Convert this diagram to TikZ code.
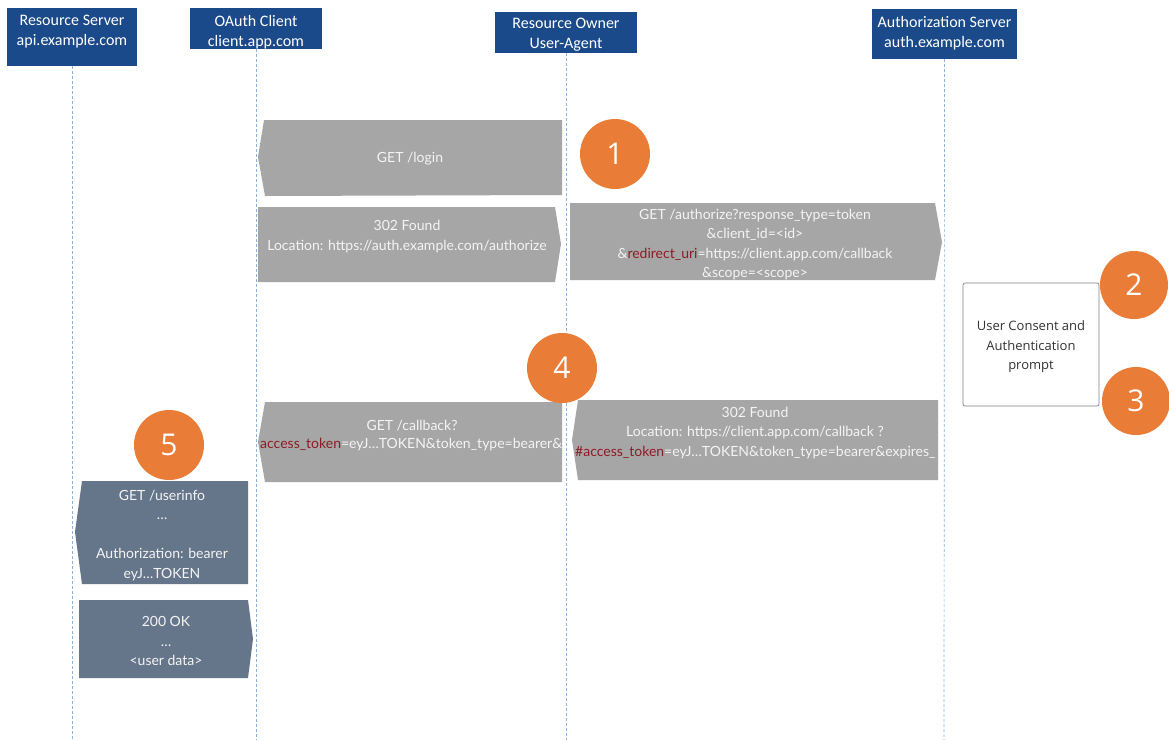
\documentclass[tikz,border=0pt]{standalone}
\usepackage{fontspec}
\setmainfont{Lato}
\newfontfamily\hdrfont{Carlito}
\newfontfamily\numfont{Open Sans}
\definecolor{hdrblue}{HTML}{1B4A8A}
\definecolor{msggray}{HTML}{A6A6A6}
\definecolor{msgslate}{HTML}{66768A}
\definecolor{steporange}{HTML}{E97C36}
\definecolor{tokred}{HTML}{8E1B25}
\definecolor{lifeblue}{HTML}{8FB4D9}
\definecolor{msgtext}{HTML}{F4F4F4}
\definecolor{boxline}{HTML}{808080}
\tikzset{
  hdrbox/.style={fill=hdrblue, inner sep=0pt},
  hdrtext/.style={text=white, font=\hdrfont\fontsize{16}{20}\selectfont, align=center, inner sep=0pt},
  lifeline/.style={draw=lifeblue, densely dashed, line width=0.7pt},
  msgtxt/.style={text=msgtext, font=\fontsize{14}{19.5}\selectfont, align=center, inner sep=0pt},
  stepnum/.style={circle, fill=steporange, text=white, minimum size=70pt, inner sep=0pt,
    font=\numfont\fontsize{30}{30}\selectfont},
  promptbox/.style={draw=boxline, line width=0.7pt, rounded corners=2pt, fill=white,
    minimum width=136pt, minimum height=123pt, inner sep=0pt, align=center,
    font=\numfont\fontsize{13}{19.5}\selectfont, text=black!80}
}
\begin{document}
\begin{tikzpicture}[x=1pt, y=-1pt]
  \useasboundingbox[fill=white] (0,0) rectangle (1169,740);

  % participants
  \node[hdrbox, minimum width=130pt, minimum height=58pt] (rs) at (72,37) {};
  \node[hdrtext] (rs-t) at (72,32) {Resource Server\\api.example.com};
  \node[hdrbox, minimum width=132pt, minimum height=41pt] (oc) at (256,28.5) {};
  \node[hdrtext] (oc-t) at (256,32) {OAuth Client\\client.app.com};
  \node[hdrbox, minimum width=142pt, minimum height=41pt] (ro) at (566,32.5) {};
  \node[hdrtext] (ro-t) at (566,35) {Resource Owner\\User-Agent};
  \node[hdrbox, minimum width=145pt, minimum height=50pt] (as) at (944.5,34) {};
  \node[hdrtext] (as-t) at (944.5,33.5) {Authorization Server\\auth.example.com};

  % lifelines
  \coordinate (rs-end) at (72,740);
  \coordinate (oc-end) at (256,740);
  \coordinate (ro-end) at (566,740);
  \coordinate (as-end) at (944,740);
  \draw[lifeline] (rs.south) -- (rs-end);
  \draw[lifeline] (oc.south) -- (oc-end);
  \draw[lifeline] (ro.south) -- (ro-end);
  \draw[lifeline] (as.south) -- (as-end);

  % step 1: login and redirect to the authorization endpoint
  \fill[msggray] (264,120) -- (562,120) -- (562,195) -- (265,196) -- (258,157) -- cycle;
  \node[msgtxt] (login) at (410,159) {GET /login};

  \fill[msggray] (258,207) -- (555,207) -- (561,244) -- (555,282) -- (258,282) -- cycle;
  \node[msgtxt] (found1) at (407,236.5) {302 Found\\Location: https://auth.example.com/authorize};

  \fill[msggray] (570,203) -- (935,203) -- (942,242) -- (935,280) -- (570,280) -- cycle;
  \node[msgtxt] (authz) at (755,244.5) {GET /authorize?response\_type=token\\
    \&client\_id=<id>\\
    \&\textcolor{tokred}{redirect\_uri}=https://client.app.com/callback\\
    \&scope=<scope>};

  % steps 2 and 3: consent on the authorization server
  \node[promptbox] (prompt) at (1031,344.5) {};
  \node[text=black!80, align=center, inner sep=0pt, font=\numfont\fontsize{13}{19.5}\selectfont]
    (prompt-t) at (1031,347) {User Consent and\\Authentication\\prompt};

  % step 4: redirect back with the token in the fragment
  \fill[msggray] (578,400) -- (938,400) -- (938,480) -- (578,480) -- (572,440) -- cycle;
  \begin{scope}
    \clip (578,400) -- (938,400) -- (938,480) -- (578,480) -- (572,440) -- cycle;
    \node[msgtxt] (found2) at (755,423) {302 Found\\Location: https://client.app.com/callback ?};
    \node[msgtxt, anchor=west] (frag) at (575,452.5) {\textcolor{tokred}{\#access\_token}=eyJ…TOKEN\&token\_type=bearer\&expires\_};
  \end{scope}

  \fill[msggray] (265,402) -- (562,402) -- (562,482) -- (265,482) -- (258,442) -- cycle;
  \begin{scope}
    \clip (265,402) -- (562,402) -- (562,482) -- (265,482) -- (257,442) -- cycle;
    \node[msgtxt] (cb) at (412,425.5) {GET /callback?};
    \node[msgtxt, anchor=west] (cbq) at (260,444.5) {\textcolor{tokred}{access\_token}=eyJ…TOKEN\&token\_type=bearer\&};
  \end{scope}

  % step 5: call the resource server with the token
  \fill[msgslate] (82,481) -- (248,481) -- (248,584) -- (82,584) -- (75,532) -- cycle;
  \node[msgtxt] (userinfo) at (162,535.5) {GET /userinfo\\…\\\mbox{}\\Authorization: bearer\\eyJ…TOKEN};

  \fill[msgslate] (79,600) -- (248,600) -- (253,639) -- (248,678) -- (79,678) -- cycle;
  \node[msgtxt] (ok) at (166,641) {200 OK\\…\\<user data>};

  % step markers
  \node[stepnum] (s1) at (615,154) {1};
  \node[stepnum, minimum size=68pt] (s2) at (1134,285) {2};
  \node[stepnum, minimum size=68pt] (s3) at (1136,401) {3};
  \node[stepnum] (s4) at (562,368) {4};
  \node[stepnum] (s5) at (169,445) {5};
\end{tikzpicture}
\end{document}
